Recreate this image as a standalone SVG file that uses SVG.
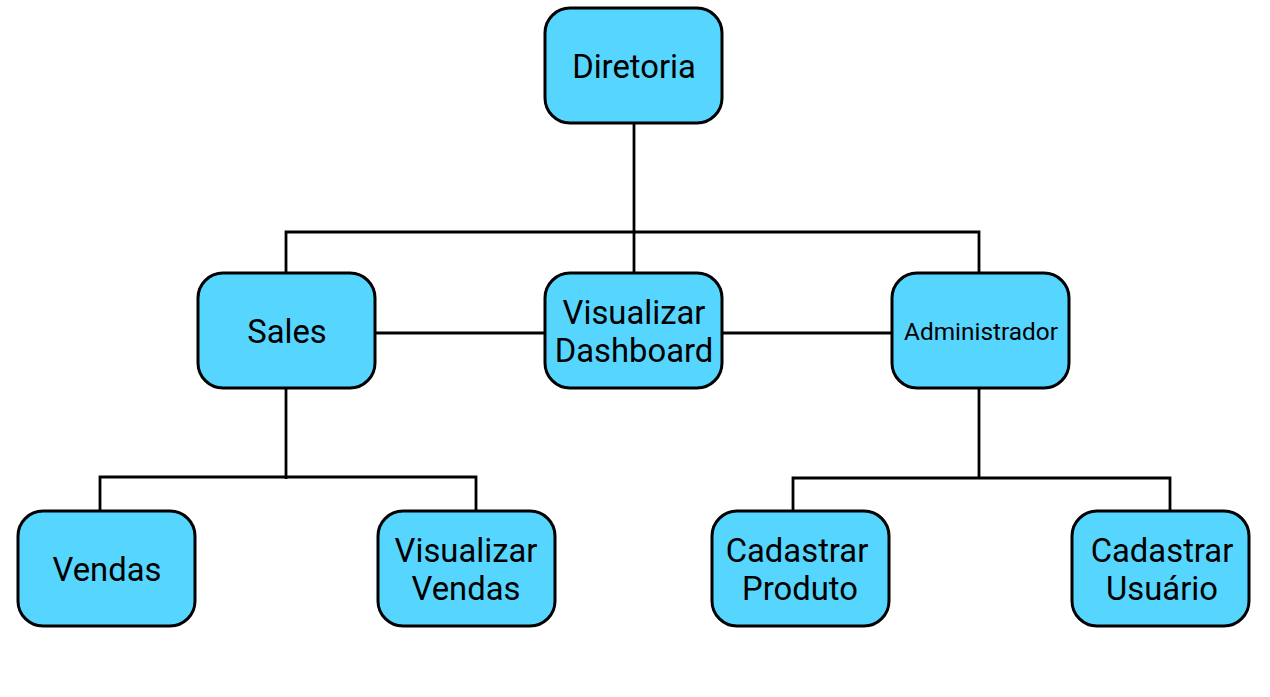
<svg xmlns="http://www.w3.org/2000/svg" width="1270" height="697" viewBox="0 0 1270 697">
<style>
.n{fill:#56D6FF;stroke:#000;stroke-width:3}
.t{font-family:Roboto,"Liberation Sans",sans-serif;font-size:32.8px;fill:#000;text-anchor:middle}
.s{font-size:24.4px}
.c{fill:none;stroke:#000;stroke-width:2.8}
</style>
<rect width="1270" height="697" fill="#fff"/>
<g id="connectors" class="c">
<path d="M634 123V273"/>
<path d="M286 273V232H979V273"/>
<path d="M375 333H545"/>
<path d="M722 333H892"/>
<path d="M286 388V479"/>
<path d="M100 511V477H476V511"/>
<path d="M979 388V479"/>
<path d="M793 511V478H1170V511"/>
</g>
<g id="diretoria"><rect class="n" x="545" y="8" width="177" height="115" rx="25"/><text class="t" x="634" y="78">Diretoria</text></g>
<g id="sales"><rect class="n" x="198" y="273" width="177" height="115" rx="25"/><text class="t" x="287" y="343">Sales</text></g>
<g id="dashboard"><rect class="n" x="545" y="273" width="177" height="115" rx="25"/><text class="t" x="634" y="324">Visualizar</text><text class="t" x="634" y="362">Dashboard</text></g>
<g id="administrador"><rect class="n" x="892" y="273" width="177" height="115" rx="25"/><text class="t s" x="981" y="340">Administrador</text></g>
<g id="vendas"><rect class="n" x="18" y="511" width="177" height="115" rx="25"/><text class="t" x="107" y="581">Vendas</text></g>
<g id="visualizar-vendas"><rect class="n" x="378" y="511" width="177" height="115" rx="25"/><text class="t" x="466" y="562">Visualizar</text><text class="t" x="466" y="600">Vendas</text></g>
<g id="cadastrar-produto"><rect class="n" x="712" y="511" width="177" height="115" rx="25"/><text class="t" x="797" y="562">Cadastrar</text><text class="t" x="800" y="600">Produto</text></g>
<g id="cadastrar-usuario"><rect class="n" x="1072" y="511" width="177" height="115" rx="25"/><text class="t" x="1162" y="562">Cadastrar</text><text class="t" x="1162" y="600">Usuário</text></g>
</svg>
